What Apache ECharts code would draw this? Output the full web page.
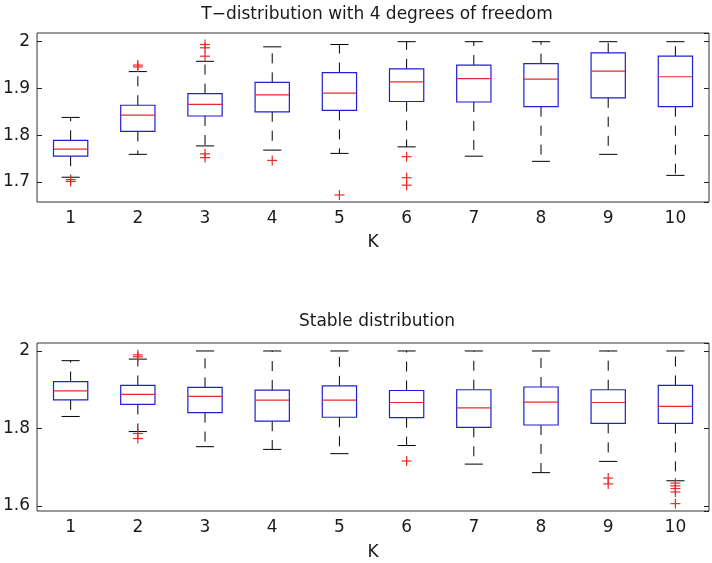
<!DOCTYPE html>
<html>
<head>
<meta charset="utf-8">
<script src="https://cdn.jsdelivr.net/npm/echarts@6/dist/echarts.min.js"></script>
<style>
html,body{margin:0;padding:0;background:#fff;}
#chart{width:712px;height:563px;}
</style>
</head>
<body>
<div id="chart"></div>
<script>
// ---- data ----
const categories = ['1','2','3','4','5','6','7','8','9','10'];

// T-distribution with 4 degrees of freedom
const tLower  = [1.710, 1.759, 1.777, 1.768, 1.761, 1.775, 1.755, 1.744, 1.759, 1.714];
const tQ1     = [1.755, 1.808, 1.841, 1.850, 1.853, 1.872, 1.871, 1.861, 1.880, 1.861];
const tMedian = [1.770, 1.843, 1.866, 1.886, 1.890, 1.914, 1.921, 1.920, 1.937, 1.925];
const tQ3     = [1.789, 1.864, 1.889, 1.913, 1.934, 1.942, 1.950, 1.953, 1.976, 1.969];
const tUpper  = [1.838, 1.936, 1.958, 1.989, 1.994, 2.000, 2.000, 2.000, 2.000, 2.000];
const tOutliers = [[0,1.705],[0,1.701],[1,1.950],[1,1.946],[2,1.994],[2,1.987],[2,1.969],
                   [2,1.760],[2,1.752],[3,1.746],[4,1.672],[5,1.754],[5,1.709],[5,1.693]];

// Stable distribution
const sLower  = [1.831, 1.792, 1.753, 1.746, 1.735, 1.756, 1.708, 1.686, 1.715, 1.665];
const sQ1     = [1.874, 1.862, 1.841, 1.819, 1.829, 1.828, 1.803, 1.809, 1.813, 1.813];
const sMedian = [1.897, 1.888, 1.883, 1.873, 1.873, 1.867, 1.853, 1.868, 1.867, 1.857];
const sQ3     = [1.921, 1.911, 1.906, 1.899, 1.910, 1.898, 1.900, 1.907, 1.900, 1.911];
const sUpper  = [1.975, 1.979, 2.000, 2.000, 2.000, 2.000, 2.000, 2.000, 2.000, 2.000];
const sOutliers = [[1,1.990],[1,1.985],[1,1.787],[1,1.774],[5,1.716],[8,1.672],[8,1.657],
                   [9,1.659],[9,1.652],[9,1.645],[9,1.636],[9,1.606]];

const titles = ['T\u2212distribution with 4 degrees of freedom', 'Stable distribution'];
const xName = 'K';

// ---- build ----
const FONT = '"DejaVu Sans", "Liberation Sans", Arial, sans-serif';
const TXT = '#1a1a1a';
const BLUE = '#1f1fd6';
const RED = '#e82a2a';
const FS = 17;

function boxData(lower, q1, med, q3, upper) {
  return categories.map((c, i) => [i, lower[i], q1[i], med[i], q3[i], upper[i]]);
}

function renderBox(params, api) {
  const x = api.value(0);
  const pLow = api.coord([x, api.value(1)]);
  const pQ1 = api.coord([x, api.value(2)]);
  const pMed = api.coord([x, api.value(3)]);
  const pQ3 = api.coord([x, api.value(4)]);
  const pUp = api.coord([x, api.value(5)]);
  const band = api.size([1, 0])[0];
  const bw = band * 0.51, cw = band * 0.27;
  const cx = pMed[0];
  const dash = {stroke: '#000', lineWidth: 1, lineDash: [10, 9], fill: null};
  const solid = {stroke: '#000', lineWidth: 1, fill: null};
  return {
    type: 'group',
    children: [
      {type: 'line', shape: {x1: cx, y1: pQ3[1], x2: cx, y2: pUp[1]}, style: dash},
      {type: 'line', shape: {x1: cx, y1: pQ1[1], x2: cx, y2: pLow[1]}, style: dash},
      {type: 'line', shape: {x1: cx - cw/2, y1: pUp[1], x2: cx + cw/2, y2: pUp[1]}, style: solid},
      {type: 'line', shape: {x1: cx - cw/2, y1: pLow[1], x2: cx + cw/2, y2: pLow[1]}, style: solid},
      {type: 'rect', shape: {x: cx - bw/2, y: pQ3[1], width: bw, height: pQ1[1] - pQ3[1]},
        style: {stroke: BLUE, lineWidth: 1.2, fill: null}},
      {type: 'line', shape: {x1: cx - bw/2, y1: pMed[1], x2: cx + bw/2, y2: pMed[1]},
        style: {stroke: RED, lineWidth: 1.2}}
    ]
  };
}

function renderPlus(params, api) {
  const p = api.coord([api.value(0), api.value(1)]);
  const h = 5;
  const st = {stroke: RED, lineWidth: 1.2};
  return {
    type: 'group',
    children: [
      {type: 'line', shape: {x1: p[0] - h, y1: p[1], x2: p[0] + h, y2: p[1]}, style: st},
      {type: 'line', shape: {x1: p[0], y1: p[1] - h, x2: p[0], y2: p[1] + h}, style: st}
    ]
  };
}

function xAxisCfg(gi, gap) {
  return {
    type: 'category', gridIndex: gi, data: categories,
    boundaryGap: true,
    axisLine: {show: false}, axisTick: {show: false}, splitLine: {show: false},
    axisLabel: {color: TXT, fontFamily: FONT, fontSize: FS, margin: 8},
    name: xName, nameLocation: 'middle', nameGap: gap,
    nameTextStyle: {color: TXT, fontFamily: FONT, fontSize: FS}
  };
}

function yAxisCfg(gi, min, max, step, pos) {
  return {
    type: 'value', gridIndex: gi, position: pos, min: min, max: max,
    splitNumber: step === 0.1 ? 5 : 2, minInterval: step, maxInterval: step,
    axisLine: {show: false}, splitLine: {show: false},
    axisTick: {show: true, inside: true, length: 5, lineStyle: {color: '#222'}},
    axisLabel: {show: pos === 'left', color: TXT, fontFamily: FONT, fontSize: FS, margin: 7,
      showMinLabel: false, showMaxLabel: false}
  };
}

const option = {
  backgroundColor: '#fff',
  animation: false,
  title: [
    {text: titles[0], left: 372, top: 1, textAlign: 'center',
      textStyle: {color: TXT, fontFamily: FONT, fontSize: FS, fontWeight: 'normal'}},
    {text: titles[1], left: 372, top: 308, textAlign: 'center',
      textStyle: {color: TXT, fontFamily: FONT, fontSize: FS, fontWeight: 'normal'}}
  ],
  grid: [
    {left: 36, right: 3, top: 33, height: 169, show: true, borderColor: '#333', borderWidth: 1, backgroundColor: '#fff'},
    {left: 36, right: 3, top: 343, height: 168, show: true, borderColor: '#333', borderWidth: 1, backgroundColor: '#fff'}
  ],
  xAxis: [xAxisCfg(0, 32), xAxisCfg(1, 33)],
  yAxis: [
    yAxisCfg(0, 1.657, 2.0186, 0.1, 'left'),
    yAxisCfg(0, 1.657, 2.0186, 0.1, 'right'),
    yAxisCfg(1, 1.587, 2.0206, 0.2, 'left'),
    yAxisCfg(1, 1.587, 2.0206, 0.2, 'right')
  ],
  series: [
    {type: 'custom', xAxisIndex: 0, yAxisIndex: 0, renderItem: renderBox,
      data: boxData(tLower, tQ1, tMedian, tQ3, tUpper), encode: {x: 0, y: [1,2,3,4,5]}},
    {type: 'custom', xAxisIndex: 0, yAxisIndex: 0, renderItem: renderPlus,
      data: tOutliers, encode: {x: 0, y: 1}},
    {type: 'custom', xAxisIndex: 1, yAxisIndex: 2, renderItem: renderBox,
      data: boxData(sLower, sQ1, sMedian, sQ3, sUpper), encode: {x: 0, y: [1,2,3,4,5]}},
    {type: 'custom', xAxisIndex: 1, yAxisIndex: 2, renderItem: renderPlus,
      data: sOutliers, encode: {x: 0, y: 1}}
  ]
};

const chart = echarts.init(document.getElementById('chart'), null, {renderer: 'canvas'});
chart.setOption(option);
</script>
</body>
</html>
